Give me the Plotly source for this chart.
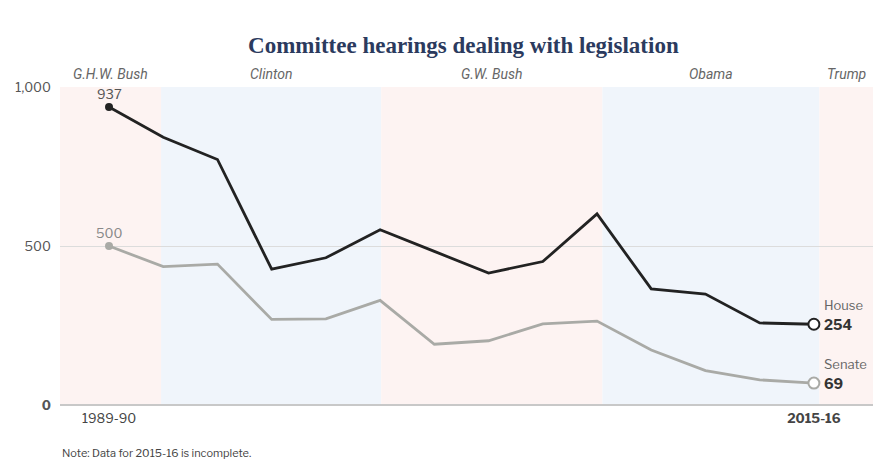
import plotly.graph_objects as go

congresses = ["1989-90", "1991-92", "1993-94", "1995-96", "1997-98", "1999-00", "2001-02",
              "2003-04", "2005-06", "2007-08", "2009-10", "2011-12", "2013-14", "2015-16"]
house = [937, 842, 772, 427, 463, 551, 483, 415, 451, 601, 365, 349, 258, 254]
senate = [500, 435, 443, 269, 271, 329, 191, 202, 255, 264, 173, 108, 79, 69]
presidents = ["G.H.W. Bush", "Clinton", "G.W. Bush", "Obama", "Trump"]
term_edges = [-0.904, 0.96, 5.02, 9.1, 13.1, 14.09]  # in congress-index units
party_colors = ["#fdf3f2", "#f0f5fb", "#fdf3f2", "#f0f5fb", "#fdf3f2"]

xi = list(range(len(congresses)))
HOUSE_C = "#222222"
SENATE_C = "#a9aaa6"
SANS = "Libre Franklin, Roboto, Liberation Sans, sans-serif"

fig = go.Figure()

shapes = []
for i, p in enumerate(presidents):
    shapes.append(dict(type="rect", xref="x", yref="paper", x0=term_edges[i], x1=term_edges[i + 1],
                       y0=0, y1=1, fillcolor=party_colors[i], line=dict(width=0), layer="below"))

for vals, col in [(senate, SENATE_C), (house, HOUSE_C)]:
    fig.add_trace(go.Scatter(x=xi, y=vals, mode="lines", line=dict(color=col, width=2.8),
                             hoverinfo="skip", showlegend=False))
    fig.add_trace(go.Scatter(x=[xi[0]], y=[vals[0]], mode="markers",
                             marker=dict(color=col, size=8), showlegend=False, hoverinfo="skip"))
    fig.add_trace(go.Scatter(x=[xi[-1]], y=[vals[-1]], mode="markers",
                             marker=dict(color="white", size=11, line=dict(color=col, width=2)),
                             showlegend=False, hoverinfo="skip"))

ann = []
# President labels
for i, p in enumerate(presidents):
    ann.append(dict(x=(term_edges[i] + term_edges[i + 1]) / 2, y=1.0, xref="x", yref="paper",
                    text=f"<i>{p}</i>", showarrow=False, yanchor="bottom", yshift=3,
                    font=dict(family="Liberation Sans Narrow, Roboto, sans-serif", size=14, color="#666")))
# start labels
ann.append(dict(x=xi[0], y=house[0], text=str(house[0]), showarrow=False, yanchor="bottom", yshift=3,
                font=dict(family=SANS, size=13, color="#555")))
ann.append(dict(x=xi[0], y=senate[0], text=str(senate[0]), showarrow=False, yanchor="bottom", yshift=3,
                font=dict(family=SANS, size=13, color="#888")))
# end labels
ann.append(dict(x=xi[-1], y=house[-1], text="House", showarrow=False, xanchor="left", yanchor="bottom",
                xshift=8, yshift=9, font=dict(family=SANS, size=13, color="#666")))
ann.append(dict(x=xi[-1], y=house[-1], text="<b>254</b>", showarrow=False, xanchor="left", yanchor="middle",
                xshift=8, font=dict(family=SANS, size=14, color="#333")))
ann.append(dict(x=xi[-1], y=senate[-1], text="Senate", showarrow=False, xanchor="left", yanchor="bottom",
                xshift=8, yshift=9, font=dict(family=SANS, size=13, color="#666")))
ann.append(dict(x=xi[-1], y=senate[-1], text="<b>69</b>", showarrow=False, xanchor="left", yanchor="middle",
                xshift=8, font=dict(family=SANS, size=14, color="#333")))
# Note
ann.append(dict(x=0, y=0, xref="paper", yref="paper", xanchor="left", yanchor="top", yshift=-39,
                text="Note: Data for 2015-16 is incomplete.", showarrow=False,
                font=dict(family=SANS, size=11, color="#444")))

fig.update_layout(
    width=876, height=461,
    margin=dict(l=60, r=3, t=87, b=56),
    paper_bgcolor="white", plot_bgcolor="white",
    title=dict(text="<b>Committee hearings dealing with legislation</b>", x=0.529, xanchor="center",
               y=0.903, yanchor="middle",
               font=dict(family="Liberation Serif, serif", size=23, color="#2b3a5e")),
    shapes=shapes, annotations=ann,
    xaxis=dict(range=[term_edges[0], term_edges[-1]], showgrid=False, zeroline=False, showline=False,
               tickvals=[xi[0], xi[-1]], ticktext=[congresses[0], "<b>" + congresses[-1] + "</b>"],
               tickfont=dict(family=SANS, size=13, color="#444"), ticks="", ticklabelstandoff=4,
               fixedrange=True),
    yaxis=dict(range=[0, 1000], tickvals=[0, 500, 1000], ticktext=["<b>0</b>", "500", "1,000"],
               showgrid=True, gridcolor="#dcdcdc", gridwidth=1, zeroline=True, zerolinecolor="#c8c8c8",
               zerolinewidth=2, showline=False, ticks="", ticklabelstandoff=8,
               tickfont=dict(family=SANS, size=13, color="#555"), fixedrange=True),
)

fig.write_html("out.html", config={"displayModeBar": False},
               post_script="document.body.style.margin='0';document.body.style.overflow='hidden';")
